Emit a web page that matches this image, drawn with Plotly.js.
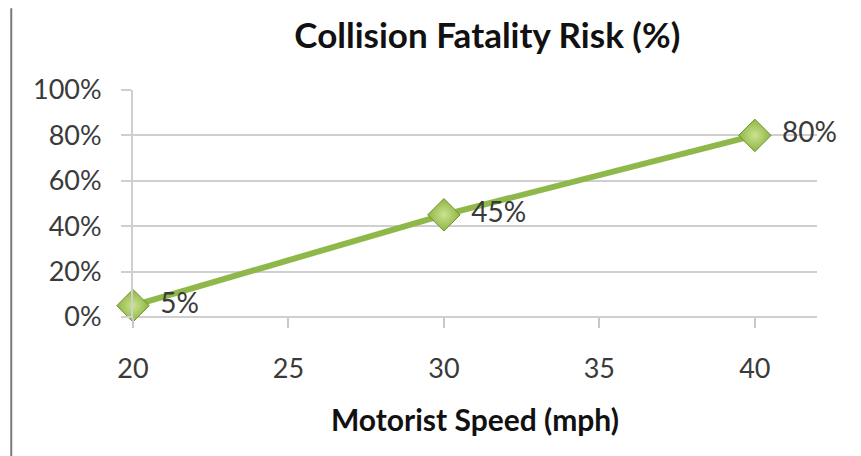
<!DOCTYPE html>
<html>
<head>
<meta charset="utf-8">
<script src="https://cdn.plot.ly/plotly-3.0.1.min.js"></script>
<style>html,body{margin:0;padding:0;background:#fff;}#chart{width:861px;height:456px;}</style>
</head>
<body>
<div id="chart"></div>
<script>
var speeds = [20, 30, 40];
var risk = [0.05, 0.45, 0.80];
var riskLabels = ['\u2009 5%', '\u2009 45%', '\u2009 80%'];
var xTicks = [20, 25, 30, 35, 40];
var yTicks = [0, 0.2, 0.4, 0.6, 0.8, 1.0];
var yTickLabels = ['0%', '20%', '40%', '60%', '80%', '100%'];

var font = 'Lato, "Open Sans", sans-serif';

var trace = {
  x: speeds,
  y: risk,
  type: 'scatter',
  mode: 'lines+markers+text',
  text: riskLabels,
  textposition: 'middle right',
  textfont: {family: font, size: 28, color: '#3a3a3a'},
  cliponaxis: false,
  line: {color: '#8fb84a', width: 6},
  marker: {
    symbol: 'diamond',
    size: 25,
    color: '#8fb542',
    gradient: {type: 'radial', color: '#cbe391'},
    line: {color: '#6f9330', width: 1}
  },
  hoverinfo: 'none'
};

var layout = {
  width: 861,
  height: 456,
  margin: {l: 133, r: 44, t: 90, b: 139},
  paper_bgcolor: '#ffffff',
  plot_bgcolor: '#ffffff',
  showlegend: false,
  title: {
    text: '<b>Collision Fatality Risk (%)</b>',
    font: {family: font, size: 35, color: '#111111'},
    x: 0.566, xanchor: 'center',
    y: 0.922, yanchor: 'middle'
  },
  xaxis: {
    range: [20, 42],
    tickvals: xTicks,
    ticktext: xTicks.map(String),
    showgrid: false,
    zeroline: false,
    showline: false,
    ticks: 'outside',
    ticklen: 10,
    tickcolor: '#c8c8c8',
    tickwidth: 2,
    tickfont: {family: font, size: 27, color: '#3a3a3a'},
    ticklabelstandoff: 18,
    title: {
      text: '<b>Motorist Speed (mph)</b>',
      font: {family: font, size: 30, color: '#111111'},
      standoff: 26
    }
  },
  yaxis: {
    range: [0, 1],
    tickvals: yTicks,
    ticktext: yTickLabels,
    showgrid: true,
    gridcolor: '#cfcfcf',
    gridwidth: 2,
    zeroline: false,
    showline: true,
    linecolor: '#cfcfcf',
    linewidth: 2,
    ticks: 'outside',
    ticklen: 10,
    tickcolor: '#cfcfcf',
    tickwidth: 2,
    tickfont: {family: font, size: 27, color: '#3a3a3a'},
    ticklabelstandoff: 14
  },
  shapes: [
    {type: 'line', xref: 'paper', yref: 'paper', x0: 0, x1: 1, y0: 0, y1: 0, line: {color: '#cfcfcf', width: 2}, layer: 'below'},
    {type: 'line', xref: 'paper', yref: 'paper', x0: -0.0146, x1: 0, y0: 0, y1: 0, line: {color: '#cfcfcf', width: 2}},
    {type: 'line', xref: 'paper', yref: 'paper', x0: -0.178, x1: -0.178, y0: -0.62, y1: 1.36, line: {color: '#7a7a7a', width: 2}}
  ]
};

Plotly.newPlot('chart', [trace], layout, {displayModeBar: false, staticPlot: true});
</script>
</body>
</html>
